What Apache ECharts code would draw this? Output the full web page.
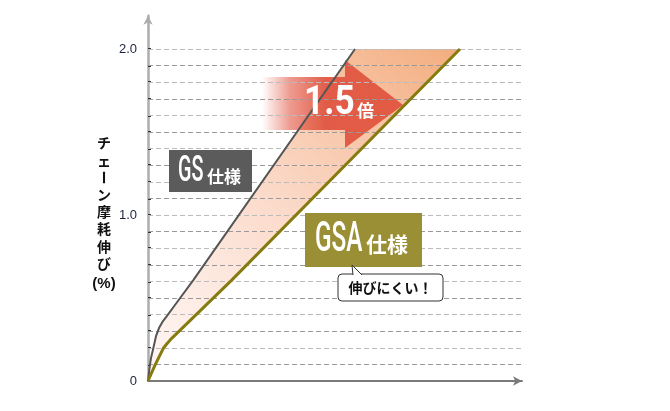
<!DOCTYPE html>
<html><head><meta charset="utf-8">
<script src="https://cdn.jsdelivr.net/npm/echarts@6/dist/echarts.min.js"></script>
<style>html,body{margin:0;padding:0;background:#fff}#c{width:670px;height:411px}</style>
</head><body><div id="c"></div>
<script>
// data (x in arbitrary horizontal units, y in % elongation)
const gsX  = [0, 1.5, 3, 5.3, 8, 11, 15, 19, 27, 45.3, 207];
const gsY  = [0, 0.078, 0.139, 0.197, 0.27, 0.319, 0.361, 0.392, 0.458, 0.608, 2.0];
const gsaX = [0, 7, 15.3, 18.7, 23.7, 83.7, 312];
const gsaY = [0, 0.096, 0.197, 0.223, 0.257, 0.608, 2.0];
const gridValues = [0.1,0.2,0.3,0.4,0.5,0.6,0.7,0.8,0.9,1.0,1.1,1.2,1.3,1.4,1.5,1.6,1.7,1.8,1.9,2.0];
const yLabelValues = [0, 1, 2];
const axisNameChars = ['チ','ェ','ー','ン','摩','耗','伸','び','(%)'];

const chart = echarts.init(document.getElementById('c'));
const gsPts = gsX.map((x,i)=>[x,gsY[i]]);
const gsaPts = gsaX.map((x,i)=>[x,gsaY[i]]);
const CJK = '"Noto Sans CJK JP","Noto Sans",sans-serif';

const nameTexts = axisNameChars.map((ch,i)=>({
  type:'text',z:14,silent:true,x:104,y:143+i*17.2+(i===8?3:0),
  rotation:(ch==='ー'?-Math.PI/2:0),
  style:{text:ch,fill:'#111',font:(i===8?'bold 15px "Liberation Sans",Arial,sans-serif':'bold 14px '+CJK),
    textAlign:'center',textVerticalAlign:'middle'}
}));

const option = {
  animation:false,
  grid:{left:148,right:148,top:15.8,bottom:30,containLabel:false},
  xAxis:{type:'value',min:0,max:374,
    axisLine:{show:true,lineStyle:{color:'#7a7a7a',width:2},symbol:['none','arrow'],symbolSize:[7,9]},
    axisTick:{show:false},axisLabel:{show:false},splitLine:{show:false}},
  yAxis:{type:'value',min:0,max:2.2,interval:0.1,
    axisLine:{show:true,lineStyle:{color:'#acacac',width:2.5},symbol:['none','arrow'],symbolSize:[7,9]},
    axisTick:{show:true,inside:true,length:3,customValues:gridValues,lineStyle:{color:'#333',width:2}},
    axisLabel:{customValues:yLabelValues,margin:11,color:'#1c2340',fontSize:13,fontFamily:'"Liberation Sans",Arial,sans-serif',
      formatter:v=>v===0?'0':v.toFixed(1)},
    splitLine:{show:false}},
  series:[
    {type:'line',data:[[0,0]],symbol:'none',silent:true,z:0,lineStyle:{opacity:0},
      markLine:{silent:true,symbol:'none',label:{show:false},
        data:gridValues.map((v,i)=>({yAxis:v,lineStyle:{color:i%2===0?'#999999':'#bbbbbb',type:[5,3],width:1}}))}},
    {type:'custom',z:1,silent:true,data:[0],
      renderItem:(params,api)=>{
        const pts = gsPts.map(p=>api.coord(p)).concat(gsaPts.slice().reverse().map(p=>api.coord(p)));
        return {type:'polygon',shape:{points:pts},
          style:{fill:new echarts.graphic.LinearGradient(0,1,1,0,[
            {offset:0,color:'rgba(255,240,235,0.6)'},
            {offset:0.45,color:'rgba(251,214,196,0.85)'},
            {offset:1,color:'rgba(242,168,118,0.95)'}])}};
      }},
    {type:'line',name:'GS',data:gsPts,symbol:'none',z:5,silent:true,
      lineStyle:{color:'#555555',width:2}},
    {type:'line',name:'GSA',data:gsaPts,symbol:'none',z:5,silent:true,
      lineStyle:{color:'#867b0f',width:3}}
  ],
  graphic:[
    {type:'polygon',z:3,silent:true,
      shape:{points:[[262,77],[345,77],[345,60],[403,105],[345,148],[345,130],[262,130]]},
      style:{fill:new echarts.graphic.LinearGradient(0,0,1,0,[
        {offset:0,color:'rgba(228,90,70,0)'},
        {offset:0.2,color:'rgba(226,88,68,0.6)'},
        {offset:0.45,color:'rgba(224,86,66,0.95)'},
        {offset:1,color:'#e35b44'}])}},
    {type:'text',z:20,silent:true,x:304,y:104,scaleX:0.88,
      style:{text:'1.5',fill:'#fff',font:'bold 40px "Roboto","Liberation Sans",sans-serif',textAlign:'left',textVerticalAlign:'middle'}},
    {type:'text',z:20,silent:true,x:357,y:111,
      style:{text:'倍',fill:'#fff',font:'bold 17px '+CJK,textAlign:'left',textVerticalAlign:'middle'}},
    // GS box
    {type:'rect',z:10,silent:true,shape:{x:169,y:150,width:83,height:42},style:{fill:'#5b5b5b'}},
    {type:'text',z:11,silent:true,x:178,y:172,scaleX:0.55,
      style:{text:'GS',fill:'#fff',font:'500 36px "Roboto","Liberation Sans",sans-serif',textAlign:'left',textVerticalAlign:'middle'}},
    {type:'text',z:11,silent:true,x:207,y:177,
      style:{text:'仕様',fill:'#fff',font:'bold 17px '+CJK,textAlign:'left',textVerticalAlign:'middle'}},
    // GSA box
    {type:'rect',z:10,silent:true,shape:{x:305,y:213,width:117,height:54},style:{fill:'#9a8f35'}},
    {type:'text',z:11,silent:true,x:315,y:240,scaleX:0.58,
      style:{text:'GSA',fill:'#fff',font:'500 42px "Roboto","Liberation Sans",sans-serif',textAlign:'left',textVerticalAlign:'middle'}},
    {type:'text',z:11,silent:true,x:366,y:244,
      style:{text:'仕様',fill:'#fff',font:'bold 21px '+CJK,textAlign:'left',textVerticalAlign:'middle'}},
    // callout
    {type:'rect',z:12,silent:true,shape:{x:338,y:274,width:105,height:27,r:4},style:{fill:'#fff',stroke:'#333',lineWidth:1}},
    {type:'polyline',z:13,silent:true,shape:{points:[[353,275],[352,265],[362,275]]},style:{fill:'#fff',stroke:'#333',lineWidth:1}},
    {type:'line',z:14,silent:true,shape:{x1:354,y1:274.5,x2:360,y2:274.5},style:{stroke:'#fff',lineWidth:1.5}},
    {type:'text',z:14,silent:true,x:390.5,y:288,
      style:{text:'伸びにくい！',fill:'#111',font:'bold 14px '+CJK,textAlign:'center',textVerticalAlign:'middle'}}
  ].concat(nameTexts)
};
chart.setOption(option);
</script></body></html>
